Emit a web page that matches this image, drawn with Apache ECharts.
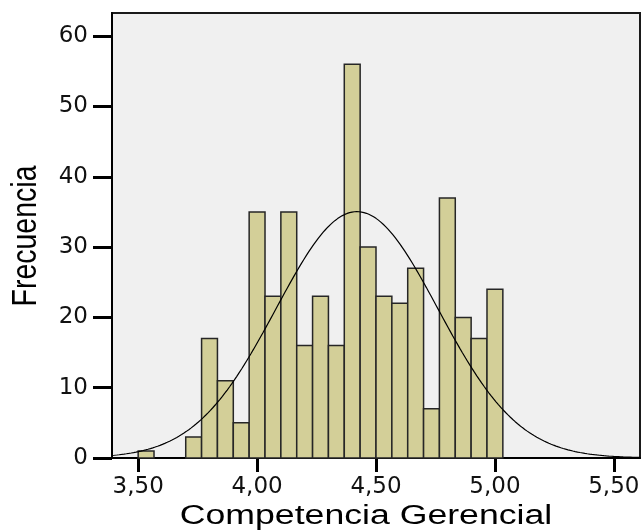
<!DOCTYPE html>
<html>
<head>
<meta charset="utf-8">
<script src="https://cdn.jsdelivr.net/npm/echarts@6/dist/echarts.min.js"></script>
<style>
  html, body { margin: 0; padding: 0; background: #ffffff; }
  #chart { width: 644px; height: 531px; }
</style>
</head>
<body>
<div id="chart"></div>
<script>
// Histogram of "Competencia Gerencial" scores: bins of width 1/15 starting at 3.50
const binStart = 3.5;
const binWidth = 1 / 15;
const counts = [1, 0, 0, 3, 17, 11, 5, 35, 23, 35, 16, 23, 16, 56, 30, 23, 22, 27, 7, 37, 20, 17, 24];

// Axis ticks
const xTicks = [3.5, 4.0, 4.5, 5.0, 5.5];
const yTicks = [0, 10, 20, 30, 40, 50, 60];
const xRange = [3.39, 5.61];
const yMax = 63.3;

// Fitted normal curve parameters
const curveMean = 4.42;
const curveSd = 0.34;

const sampleSize = counts.reduce((a, b) => a + b, 0);

const binData = counts
  .map((c, i) => [binStart + i * binWidth, binStart + (i + 1) * binWidth, c])
  .filter(d => d[2] > 0);

// Expected frequency per bin under the fitted normal distribution
const curveData = [];
const steps = 220;
for (let k = 0; k <= steps; k++) {
  const x = xRange[0] + (xRange[1] - xRange[0]) * k / steps;
  const z = (x - curveMean) / curveSd;
  const y = sampleSize * binWidth * Math.exp(-0.5 * z * z) / (curveSd * Math.sqrt(2 * Math.PI));
  curveData.push([x, y]);
}

const labelFont = 'DejaVu Sans';
const chart = echarts.init(document.getElementById('chart'), null, { renderer: 'canvas' });

chart.setOption({
  animation: false,
  backgroundColor: '#ffffff',
  grid: {
    left: 112, right: 4, top: 13, bottom: 73,
    show: true,
    backgroundColor: '#f0f0f0',
    borderColor: '#1a1a1a',
    borderWidth: 2
  },
  xAxis: {
    type: 'value',
    min: xRange[0],
    max: xRange[1],
    splitLine: { show: false },
    axisLine: { show: true, onZero: false, lineStyle: { color: '#000', width: 2 } },
    axisTick: { show: true, customValues: xTicks, length: 14, lineStyle: { color: '#000', width: 3 } },
    axisLabel: {
      customValues: xTicks,
      formatter: v => v.toFixed(2).replace('.', ','),
      fontFamily: labelFont, fontSize: 23, color: '#111', margin: 18
    }
  },
  yAxis: {
    type: 'value',
    min: 0,
    max: yMax,
    splitLine: { show: false },
    axisLine: { show: true, lineStyle: { color: '#000', width: 2 } },
    axisTick: { show: true, customValues: yTicks, length: 19, lineStyle: { color: '#000', width: 3 } },
    axisLabel: {
      customValues: yTicks,
      fontFamily: labelFont, fontSize: 23, color: '#111', margin: 24
    }
  },
  graphic: [
    {
      type: 'text',
      x: 366, y: 517,
      scaleX: 1.32,
      style: {
        text: 'Competencia Gerencial',
        fontFamily: 'Liberation Sans', fontSize: 27,
        fill: '#000',
        textAlign: 'center', textVerticalAlign: 'middle'
      }
    },
    {
      type: 'text',
      x: 27, y: 236,
      rotation: Math.PI / 2,
      scaleY: 1.2,
      style: {
        text: 'Frecuencia',
        fontFamily: 'Liberation Sans', fontSize: 28.5,
        fill: '#000',
        textAlign: 'center', textVerticalAlign: 'middle'
      }
    }
  ],
  series: [
    {
      type: 'custom',
      name: 'Frecuencia',
      data: binData,
      encode: { x: [0, 1], y: 2 },
      z: 2,
      renderItem: function (params, api) {
        const topLeft = api.coord([api.value(0), api.value(2)]);
        const bottomRight = api.coord([api.value(1), 0]);
        return {
          type: 'rect',
          shape: {
            x: topLeft[0], y: topLeft[1],
            width: bottomRight[0] - topLeft[0],
            height: bottomRight[1] - topLeft[1]
          },
          style: { fill: '#d3cf98', stroke: '#262626', lineWidth: 1.5 }
        };
      }
    },
    {
      type: 'line',
      name: 'Normal',
      data: curveData,
      showSymbol: false,
      smooth: false,
      z: 3,
      lineStyle: { color: '#000', width: 1.2 }
    }
  ]
});
</script>
</body>
</html>
